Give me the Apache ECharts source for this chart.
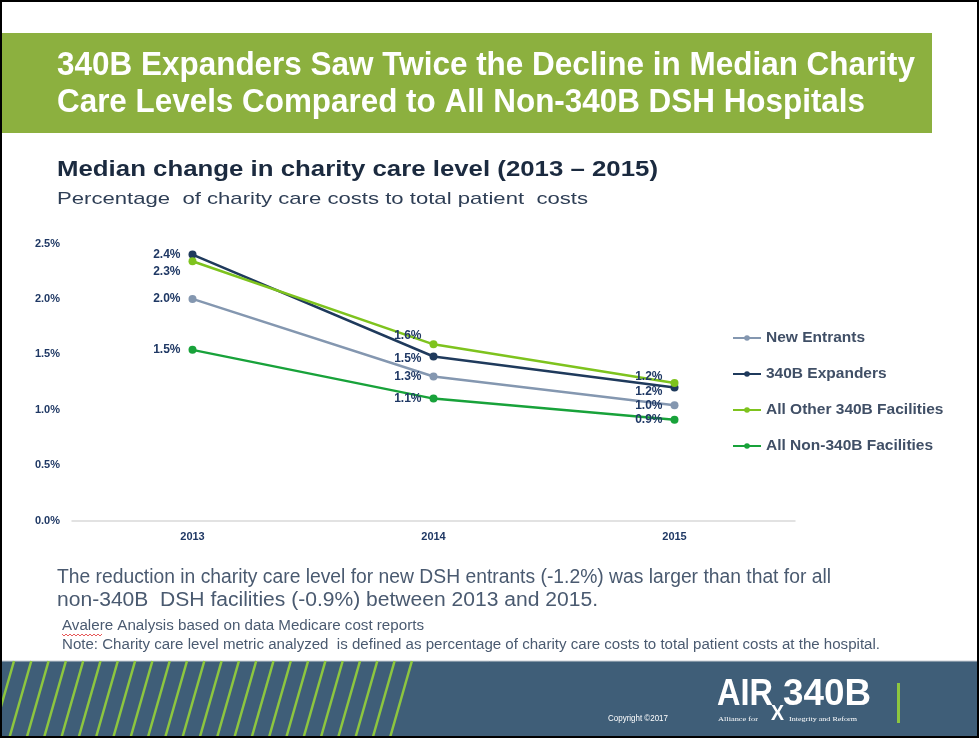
<!DOCTYPE html>
<html><head><meta charset="utf-8">
<script src="https://cdn.jsdelivr.net/npm/echarts@6/dist/echarts.min.js"></script>
<style>html,body{margin:0;padding:0;background:#fff}#c{width:979px;height:738px}</style>
</head><body><div id="c"></div>
<script>
const categories = ['2013', '2014', '2015'];
const seriesNames = ['New Entrants', '340B Expanders', 'All Other 340B Facilities', 'All Non-340B Facilities'];
const newEntrants = [2.0, 1.30, 1.04];
const expanders = [2.40, 1.48, 1.20];
const otherFacilities = [2.34, 1.59, 1.24];
const non340B = [1.54, 1.10, 0.91];
const yTicks = [0, 0.5, 1.0, 1.5, 2.0, 2.5];

const colors = ['#8497B0', '#1F3A5C', '#7EC31E', '#18A23A'];
const labelColor = '#1F3864';

const cv = document.createElement('canvas').getContext('2d');
function fit(text, font, w) { cv.font = font; return w / cv.measureText(text).width; }
function txt(text, x, y, font, fill, w, extra) {
  const o = { type: 'text', x: x, y: y, scaleX: w ? fit(text, font, w) : 1,
    style: Object.assign({ text: text, font: font, fill: fill, textVerticalAlign: 'middle' }, extra || {}), z: 10 };
  return o;
}
const F = 'Liberation Sans, Arial, sans-serif';

const graphics = [];
// header band
graphics.push({ type: 'rect', shape: { x: 0, y: 33, width: 932, height: 100 }, style: { fill: '#8CB03F' }, z: 1 });
graphics.push(txt('340B Expanders Saw Twice the Decline in Median Charity', 57, 66, 'bold 33px ' + F, '#fff', 858));
graphics.push(txt('Care Levels Compared to All Non-340B DSH Hospitals', 57, 103, 'bold 33px ' + F, '#fff', 808));
graphics.push(txt('Median change in charity care level (2013 \u2013 2015)', 57, 170, 'bold 22px ' + F, '#1B2A3F', 601));
graphics.push(txt('Percentage  of charity care costs to total patient  costs', 57, 199, '17px ' + F, '#2E3E55', 531));
graphics.push(txt('The reduction in charity care level for new DSH entrants (-1.2%) was larger than that for all', 57, 577, '20px ' + F, '#4A5A70', 774));
graphics.push(txt('non-340B  DSH facilities (-0.9%) between 2013 and 2015.', 57, 600, '20px ' + F, '#4A5A70', 541));
graphics.push(txt('Avalere Analysis based on data Medicare cost reports', 62, 626, '14px ' + F, '#4A5A70', 362));
graphics.push(txt('Note: Charity care level metric analyzed  is defined as percentage of charity care costs to total patient costs at the hospital.', 62, 645, '14px ' + F, '#4A5A70', 818));
// red squiggle under Avalere
(function(){ const pts=[]; for (let i=0;i<=20;i++){ pts.push([62+i*2, 634+(i%2?2:0)]); } graphics.push({type:'polyline',shape:{points:pts},style:{stroke:'#E03030',lineWidth:0.8,fill:null},z:10}); })();
// footer
graphics.push({ type: 'rect', shape: { x: 0, y: 661, width: 979, height: 77 }, style: { fill: '#3F5E78' }, z: 1 });
graphics.push({ type: 'line', shape: { x1: 0, y1: 661, x2: 979, y2: 661 }, style: { stroke: '#C8CDD3', lineWidth: 1 }, z: 2 });
for (let i = 0; i < 24; i++) {
  const xb = -8 + i * 17.3;
  graphics.push({ type: 'line', shape: { x1: xb, y1: 738, x2: xb + 22, y2: 661 }, style: { stroke: '#8DC63F', lineWidth: 2.5 }, z: 3 });
}
graphics.push(txt('Copyright \u00a92017', 608, 719, '9px ' + F, '#fff', 60));
graphics.push(txt('AIR', 717, 695, 'bold 36px ' + F, '#fff', 56));
graphics.push(txt('340B', 783, 695, 'bold 36px ' + F, '#fff', 88));
graphics.push(txt('X', 771, 714, 'bold 22px ' + F, '#fff', 13));
graphics.push(txt('Alliance for', 718, 719, '7px Liberation Serif, serif', '#fff', 40));
graphics.push(txt('Integrity and Reform', 789, 719, '7px Liberation Serif, serif', '#fff', 68));
graphics.push({ type: 'rect', shape: { x: 897, y: 683, width: 3, height: 40 }, style: { fill: '#8DC63F' }, z: 3 });
// border
graphics.push({ type: 'rect', shape: { x: 1, y: 1, width: 977, height: 736 }, style: { fill: null, stroke: '#000', lineWidth: 2 }, z: 20 });

function mkSeries(name, data, color, labelTweaks) {
  return {
    name: name, type: 'line', data: data.map((v, i) => {
      const t = labelTweaks[i] || [0, 0];
      return { value: v, label: { offset: t } };
    }),
    symbol: 'circle', symbolSize: 8,
    lineStyle: { width: 2.5, color: color }, itemStyle: { color: color },
    label: { show: true, position: 'left', distance: 8, color: labelColor, fontWeight: 'bold', fontSize: 12, fontFamily: F,
      formatter: p => p.value.toFixed(1) + '%' },
    emphasis: { disabled: true }, animation: false
  };
}

const chart = echarts.init(document.getElementById('c'), null, { renderer: 'canvas' });
chart.setOption({
  animation: false,
  graphic: graphics,
  legend: {
    orient: 'vertical', left: 727, top: 325, itemGap: 20, itemWidth: 28, itemHeight: 7,
    data: seriesNames,
    textStyle: { color: '#404F66', fontWeight: 'bold', fontSize: 15.5, fontFamily: F }
  },
  grid: { left: 72, right: 184, top: 243.5, bottom: 217.5 },
  xAxis: {
    type: 'category', data: categories, boundaryGap: true,
    axisLine: { lineStyle: { color: '#D9D9D9', width: 1.5 } }, axisTick: { show: false },
    axisLabel: { color: labelColor, fontWeight: 'bold', fontSize: 11, fontFamily: F, margin: 11 }
  },
  yAxis: {
    type: 'value', min: yTicks[0], max: yTicks[yTicks.length - 1], interval: 0.5,
    splitLine: { show: false }, axisLine: { show: false }, axisTick: { show: false },
    axisLabel: { color: labelColor, fontWeight: 'bold', fontSize: 11, fontFamily: F, margin: 12,
      formatter: v => v.toFixed(1) + '%' }
  },
  series: [
    mkSeries(seriesNames[0], newEntrants, colors[0], []),
    mkSeries(seriesNames[1], expanders, colors[1], [[0, 0], [0, 2], [0, 4]]),
    mkSeries(seriesNames[2], otherFacilities, colors[2], [[0, 10], [0, -9], [0, -6]]),
    mkSeries(seriesNames[3], non340B, colors[3], [])
  ]
});
</script></body></html>
